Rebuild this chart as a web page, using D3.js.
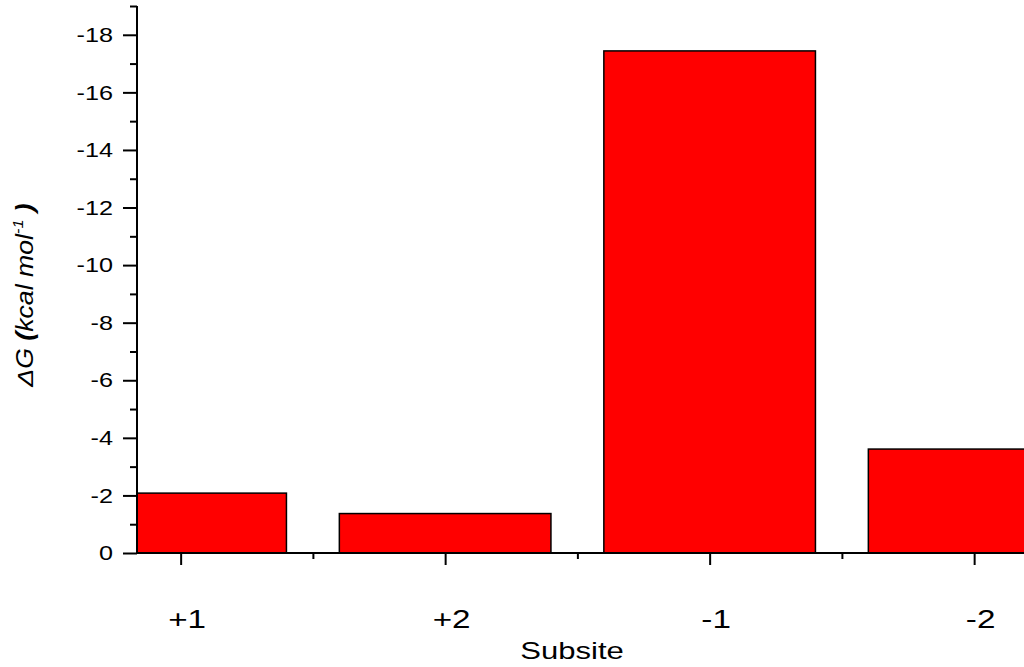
<!DOCTYPE html>
<html>
<head>
<meta charset="utf-8">
<script src="https://cdn.jsdelivr.net/npm/d3@7"></script>
<style>
  html, body { margin: 0; padding: 0; background: #fff; }
  svg { display: block; }
  text { font-family: "Liberation Sans", Arial, sans-serif; fill: #000; }
</style>
</head>
<body>
<svg id="chart" width="1024" height="667"></svg>
<script>
const categories = ["+1", "+2", "-1", "-2"];
const values = [-2.08, -1.37, -17.44, -3.61];
const yMajorTicks = [0, -2, -4, -6, -8, -10, -12, -14, -16, -18];
const yMinorTicks = [-1, -3, -5, -7, -9, -11, -13, -15, -17, -19];
const xMinorTicks = [0.5, 1.5, 2.5];
const xTitle = "Subsite";

const svg = d3.select("#chart");
const mLeft = 137, mBottom = 553, mTop = 6, mRight = 1024;
const FONT = "Liberation Sans, Arial, sans-serif";

const y = d3.scaleLinear().domain([0, -19]).range([mBottom, mTop]);
const step = 264.5;
const x = d3.scaleLinear().domain([-0.165, 3.5]).range([mLeft, mLeft + 3.665 * step]);

svg.append("defs").append("clipPath").attr("id", "plotclip")
  .append("rect").attr("x", mLeft).attr("y", 0).attr("width", mRight - mLeft).attr("height", mBottom);

// bars
svg.append("g").attr("clip-path", "url(#plotclip)")
  .selectAll("rect").data(values).join("rect")
  .attr("x", (d, i) => x(i - 0.4))
  .attr("width", (d, i) => x(i + 0.4) - x(i - 0.4))
  .attr("y", d => y(d))
  .attr("height", d => y(0) - y(d))
  .attr("fill", "#ff0000")
  .attr("stroke", "#000")
  .attr("stroke-width", 1.5);

// y axis major
const ySx = 1.2;
const yAxis = d3.axisLeft(y).tickValues(yMajorTicks).tickSize(14).tickPadding(10)
  .tickFormat(d => String(d));
const gy = svg.append("g").attr("transform", `translate(${mLeft},0)`).call(yAxis);
gy.select(".domain").remove();
gy.selectAll(".tick line").attr("stroke", "#000").attr("stroke-width", 2);
gy.selectAll(".tick text").attr("font-size", 21).attr("font-family", FONT)
  .attr("x", -24 / ySx).attr("transform", `scale(${ySx},1)`);

// y minor ticks
const yMinor = d3.axisLeft(y).tickValues(yMinorTicks).tickSize(7).tickFormat("");
const gym = svg.append("g").attr("transform", `translate(${mLeft},0)`).call(yMinor);
gym.select(".domain").remove();
gym.selectAll(".tick line").attr("stroke", "#000").attr("stroke-width", 2);

// x axis major
const xSx = 1.33;
const xAxis = d3.axisBottom(x).tickValues(d3.range(categories.length)).tickSize(12).tickPadding(45)
  .tickFormat(i => categories[i]);
const gx = svg.append("g").attr("transform", `translate(0,${mBottom})`).call(xAxis);
gx.select(".domain").remove();
gx.selectAll(".tick line").attr("stroke", "#000").attr("stroke-width", 2);
gx.selectAll(".tick text").attr("font-size", 25).attr("font-family", FONT)
  .attr("transform", `translate(6,0) scale(${xSx},1)`);

// x minor
const xMinor = d3.axisBottom(x).tickValues(xMinorTicks).tickSize(6).tickFormat("");
const gxm = svg.append("g").attr("transform", `translate(0,${mBottom})`).call(xMinor);
gxm.select(".domain").remove();
gxm.selectAll(".tick line").attr("stroke", "#000").attr("stroke-width", 2);

// axis lines
svg.append("line").attr("x1", mLeft).attr("x2", mRight).attr("y1", mBottom).attr("y2", mBottom)
  .attr("stroke", "#000").attr("stroke-width", 2);
svg.append("line").attr("x1", mLeft).attr("x2", mLeft).attr("y1", mTop).attr("y2", mBottom + 1)
  .attr("stroke", "#000").attr("stroke-width", 2);

// x title
const tSx = 1.35;
svg.append("text").attr("transform", `translate(572,659) scale(${tSx},1)`)
  .attr("text-anchor", "middle").attr("font-size", 23).text(xTitle);

// y title
const yt = svg.append("text").attr("transform", "translate(33,295) rotate(-90) scale(1.16,1)")
  .attr("text-anchor", "middle").attr("font-size", 23).attr("font-style", "italic");
yt.append("tspan").text("\u0394G ");
yt.append("tspan").attr("font-weight", "bold").text("(");
yt.append("tspan").text("kcal mol");
yt.append("tspan").attr("font-size", 14).attr("dy", -10).text("-1");
yt.append("tspan").attr("dy", 10).text(" ");
yt.append("tspan").attr("font-weight", "bold").text(")");
</script>
</body>
</html>
